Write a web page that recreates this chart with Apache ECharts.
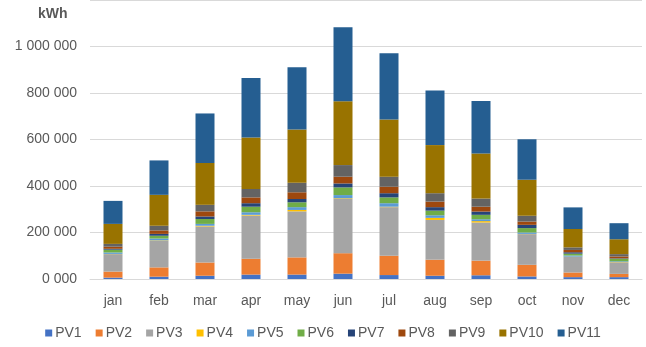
<!DOCTYPE html>
<html>
<head>
<meta charset="utf-8">
<script src="https://cdn.jsdelivr.net/npm/echarts@6/dist/echarts.min.js"></script>
<style>
  html, body { margin: 0; padding: 0; background: #ffffff; }
  #chart { width: 646px; height: 347px; }
</style>
</head>
<body>
<div id="chart"></div>
<script>
// Monthly energy production per PV installation (kWh)
const months = ['jan', 'feb', 'mar', 'apr', 'may', 'jun', 'jul', 'aug', 'sep', 'oct', 'nov', 'dec'];
const seriesNames = ['PV1', 'PV2', 'PV3', 'PV4', 'PV5', 'PV6', 'PV7', 'PV8', 'PV9', 'PV10', 'PV11'];

const pv1  = [6000, 10000, 14000, 19000, 19000, 23000, 17000, 14000, 16000, 11000, 8000, 8000];
const pv2  = [26000, 40000, 57000, 68000, 74000, 88000, 83000, 69000, 63000, 50000, 20000, 14000];
const pv3  = [75000, 114000, 155000, 186000, 198000, 233000, 209000, 171000, 164000, 132000, 67000, 50000];
const pv4  = [1000, 2000, 3000, 3000, 6000, 3000, 2000, 9000, 6000, 1000, 1000, 1000];
const pv5  = [6000, 8000, 8000, 11000, 12000, 14000, 15000, 11000, 8000, 6000, 5000, 3000];
const pv6  = [12000, 12000, 21000, 24000, 21000, 33000, 25000, 20000, 19000, 19000, 8000, 11000];
const pv7  = [4000, 8000, 11000, 15000, 14000, 17000, 18000, 15000, 14000, 14000, 6000, 2000];
const pv8  = [9000, 15000, 22000, 25000, 29000, 29000, 28000, 24000, 21000, 14000, 10000, 8000];
const pv9  = [12000, 20000, 28000, 36000, 41000, 50000, 43000, 36000, 35000, 25000, 11000, 10000];
const pv10 = [86000, 133000, 180000, 222000, 229000, 274000, 246000, 207000, 194000, 155000, 79000, 64000];
const pv11 = [99000, 148000, 213000, 255000, 268000, 319000, 285000, 235000, 226000, 174000, 93000, 69000];

const seriesValues = [pv1, pv2, pv3, pv4, pv5, pv6, pv7, pv8, pv9, pv10, pv11];
const seriesColors = ['#4472C4', '#ED7D31', '#A5A5A5', '#FFC000', '#5B9BD5', '#70AD47',
                      '#264478', '#9E480E', '#636363', '#997300', '#255E91'];

const textColor = '#595959';
const font = 'Liberation Sans, Arial, sans-serif';

// "1 000 000" style labels; zero is written as "0 000", the top tick stays blank
function formatKwh(v) {
  if (v === 0) return '0 000';
  if (v > 1000000) return '';
  return String(Math.round(v)).replace(/\B(?=(\d{3})+(?!\d))/g, ' ');
}

const chart = echarts.init(document.getElementById('chart'), null, { renderer: 'canvas' });

chart.setOption({
  animation: false,
  backgroundColor: '#ffffff',
  title: {
    text: 'kWh',
    left: 33,
    top: 2,
    textStyle: { color: textColor, fontSize: 14, fontWeight: 'bold', fontFamily: font }
  },
  legend: {
    data: seriesNames,
    bottom: 2,
    left: 'center',
    icon: 'rect',
    itemWidth: 7,
    itemHeight: 7,
    itemGap: 14,
    textStyle: { color: textColor, fontSize: 14, fontFamily: font, padding: [0, 0, 0, -2] }
  },
  grid: { left: 90, right: 4, top: -1, bottom: 68, containLabel: false },
  xAxis: {
    type: 'category',
    data: months,
    axisLine: { show: true, lineStyle: { color: '#d9d9d9', width: 1 } },
    axisTick: { show: false },
    axisLabel: { color: textColor, fontSize: 14, fontFamily: font, margin: 15 }
  },
  yAxis: {
    type: 'value',
    min: 0,
    max: 1200000,
    interval: 200000,
    axisLine: { show: false },
    axisTick: { show: false },
    axisLabel: { color: textColor, fontSize: 14, fontFamily: font, margin: 13, formatter: formatKwh },
    splitLine: { show: true, lineStyle: { color: '#d9d9d9', width: 1 } }
  },
  series: seriesNames.map((name, i) => ({
    name: name,
    type: 'bar',
    stack: 'total',
    barWidth: 19,
    data: seriesValues[i],
    itemStyle: { color: seriesColors[i] }
  }))
});

// rebuild the display list so the first paint uses the final element set
chart.getZr().storage.getDisplayList(true);
</script>
</body>
</html>
